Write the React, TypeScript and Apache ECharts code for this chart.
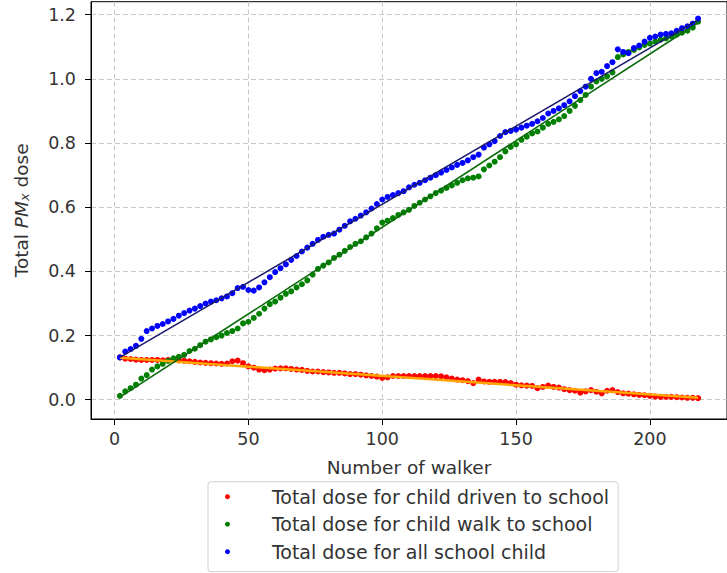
import React, { useEffect, useRef } from "react";
import * as echarts from "echarts";

const walkers = [
  2, 4, 6, 8, 10, 12, 14, 16, 18, 20, 22, 24, 26, 28, 30, 32, 34, 36, 38, 40,
  42, 44, 46, 48, 50, 52, 54, 56, 58, 60, 62, 64, 66, 68, 70, 72, 74, 76, 78, 80,
  82, 84, 86, 88, 90, 92, 94, 96, 98, 100, 102, 104, 106, 108, 110, 112, 114, 116, 118, 120,
  122, 124, 126, 128, 130, 132, 134, 136, 138, 140, 142, 144, 146, 148, 150, 152, 154, 156, 158, 160,
  162, 164, 166, 168, 170, 172, 174, 176, 178, 180, 182, 184, 186, 188, 190, 192, 194, 196, 198, 200,
  202, 204, 206, 208, 210, 212, 214, 216, 218,
];

const drivenDose = [
  0.132, 0.128, 0.127, 0.125, 0.124, 0.124, 0.124, 0.124, 0.123, 0.124,
  0.124, 0.123, 0.122, 0.120, 0.118, 0.116, 0.115, 0.114, 0.113, 0.112,
  0.113, 0.120, 0.122, 0.114, 0.104, 0.100, 0.094, 0.092, 0.094, 0.097,
  0.098, 0.098, 0.096, 0.094, 0.093, 0.090, 0.088, 0.088, 0.086, 0.085,
  0.084, 0.084, 0.082, 0.080, 0.080, 0.078, 0.076, 0.074, 0.072, 0.068,
  0.070, 0.074, 0.074, 0.074, 0.074, 0.074, 0.074, 0.074, 0.074, 0.074,
  0.073, 0.070, 0.066, 0.063, 0.061, 0.058, 0.052, 0.063, 0.057, 0.056,
  0.056, 0.056, 0.055, 0.052, 0.047, 0.045, 0.044, 0.043, 0.036, 0.040,
  0.044, 0.040, 0.038, 0.033, 0.030, 0.028, 0.022, 0.026, 0.030, 0.025,
  0.020, 0.028, 0.030, 0.024, 0.020, 0.019, 0.017, 0.015, 0.014, 0.012,
  0.010, 0.009, 0.009, 0.009, 0.008, 0.007, 0.006, 0.006, 0.005,
];

const walkDose = [
  0.012, 0.026, 0.036, 0.047, 0.066, 0.077, 0.094, 0.104, 0.112, 0.121,
  0.129, 0.134, 0.140, 0.152, 0.159, 0.170, 0.181, 0.188, 0.195, 0.200,
  0.208, 0.214, 0.222, 0.238, 0.243, 0.255, 0.268, 0.284, 0.298, 0.306,
  0.318, 0.330, 0.338, 0.350, 0.360, 0.372, 0.390, 0.408, 0.418, 0.428,
  0.442, 0.452, 0.464, 0.476, 0.486, 0.494, 0.506, 0.518, 0.534, 0.552,
  0.558, 0.566, 0.576, 0.584, 0.592, 0.604, 0.614, 0.624, 0.634, 0.644,
  0.652, 0.660, 0.668, 0.676, 0.684, 0.690, 0.692, 0.696, 0.718, 0.730,
  0.742, 0.756, 0.774, 0.788, 0.796, 0.810, 0.820, 0.830, 0.836, 0.848,
  0.860, 0.866, 0.874, 0.884, 0.900, 0.916, 0.934, 0.950, 0.976, 0.992,
  1.000, 1.008, 1.020, 1.068, 1.076, 1.084, 1.090, 1.098, 1.106, 1.110,
  1.116, 1.122, 1.126, 1.132, 1.138, 1.144, 1.150, 1.160, 1.178,
];

const allDose = [
  0.132, 0.150, 0.158, 0.168, 0.190, 0.214, 0.222, 0.230, 0.236, 0.244,
  0.252, 0.262, 0.270, 0.278, 0.284, 0.292, 0.300, 0.306, 0.310, 0.316,
  0.322, 0.332, 0.348, 0.352, 0.342, 0.340, 0.350, 0.366, 0.382, 0.398,
  0.410, 0.422, 0.436, 0.448, 0.462, 0.474, 0.486, 0.498, 0.508, 0.514,
  0.518, 0.530, 0.542, 0.556, 0.564, 0.574, 0.584, 0.596, 0.610, 0.624,
  0.632, 0.638, 0.644, 0.650, 0.662, 0.670, 0.676, 0.684, 0.692, 0.700,
  0.708, 0.716, 0.724, 0.732, 0.738, 0.746, 0.756, 0.764, 0.786, 0.796,
  0.806, 0.822, 0.834, 0.838, 0.842, 0.848, 0.854, 0.860, 0.868, 0.878,
  0.892, 0.900, 0.908, 0.918, 0.930, 0.946, 0.962, 0.976, 1.000, 1.018,
  1.022, 1.040, 1.052, 1.092, 1.084, 1.080, 1.096, 1.104, 1.116, 1.128,
  1.132, 1.138, 1.140, 1.142, 1.150, 1.158, 1.164, 1.172, 1.188,
];

// fitted trend lines: [walker, dose] endpoints
const drivenFit = [[2, 0.131], [218, 0.006]];
const walkFit = [[2, 0.008], [218, 1.175]];
const allFit = [[2, 0.132], [218, 1.184]];

const xTicks = [0, 50, 100, 150, 200];
const yTicks = [0, 0.2, 0.4, 0.6, 0.8, 1.0, 1.2];

const seriesNames = [
  "Total dose for child driven to school",
  "Total dose for child walk to school",
  "Total dose for all school child",
];

const FONT = '"DejaVu Sans", sans-serif';
const TXT = "#333333";

const pairs = (ys: number[]) => walkers.map((x, i) => [x, ys[i]]);

export default function App() {
  const ref = useRef<HTMLDivElement>(null);
  useEffect(() => {
    if (!ref.current) return;
    const chart = echarts.init(ref.current, null, { renderer: "svg" });
    const gridLine = { show: true, lineStyle: { type: [5, 3], color: "#c8c8c8", width: 1 } };
    const option: any = {
      animation: false,
      grid: {
        left: 91,
        top: 1.7,
        width: 644,
        height: 417.3,
        show: true,
        borderColor: "#000",
        borderWidth: 1,
        backgroundColor: "transparent",
      },
      xAxis: {
        type: "value",
        min: -8.8,
        max: 228.8,
        axisLine: { show: true, onZero: false, lineStyle: { color: "#000", width: 1 } },
        axisTick: { show: true, length: 6, customValues: xTicks, lineStyle: { color: "#000" } },
        axisLabel: {
          customValues: xTicks,
          margin: 11,
          fontSize: 17.5,
          color: TXT,
          fontFamily: FONT,
        },
        splitLine: gridLine,
        name: "Number of walker",
        nameLocation: "middle",
        nameGap: 39,
        nameTextStyle: { fontSize: 18.5, color: TXT, fontFamily: FONT },
      },
      yAxis: {
        type: "value",
        min: -0.06,
        max: 1.2405,
        axisLine: { show: true, onZero: false, lineStyle: { color: "#000", width: 1 } },
        axisTick: { show: true, length: 6, customValues: yTicks, lineStyle: { color: "#000" } },
        axisLabel: {
          customValues: yTicks,
          margin: 15,
          fontSize: 17.5,
          color: TXT,
          fontFamily: FONT,
          formatter: (v: number) => v.toFixed(1),
        },
        splitLine: gridLine,
        name: "Total {i|PM}{s|x} dose",
        nameLocation: "middle",
        nameGap: 60,
        nameRotate: 90,
        nameTextStyle: {
          fontSize: 18.5,
          color: TXT,
          fontFamily: FONT,
          rich: {
            i: { fontSize: 18.5, fontStyle: "italic", color: TXT, fontFamily: FONT },
            s: { fontSize: 13, fontStyle: "italic", color: TXT, fontFamily: FONT, verticalAlign: "bottom" },
          },
        },
      },
      legend: {
        orient: "vertical",
        left: 208,
        top: 481.7,
        padding: [5, 9, 10, 17],
        itemGap: 7.5,
        itemWidth: 20,
        itemHeight: 5,
        icon: "circle",
        selectedMode: false,
        borderColor: "#d0d0d0",
        borderWidth: 1,
        borderRadius: 3,
        textStyle: {
          fontSize: 19,
          fontFamily: FONT,
          color: TXT,
          lineHeight: 20,
          padding: [0, 0, 0, 29.4],
        },
        data: seriesNames,
      },
      series: [
        {
          name: seriesNames[0],
          type: "scatter",
          data: pairs(drivenDose),
          symbolSize: 6,
          itemStyle: { color: "#ff0000", opacity: 1 },
        },
        {
          type: "line",
          data: drivenFit,
          symbol: "none",
          lineStyle: { color: "#ffa500", width: 2.5 },
        },
        {
          name: seriesNames[1],
          type: "scatter",
          data: pairs(walkDose),
          symbolSize: 6,
          itemStyle: { color: "#008000", opacity: 1 },
        },
        {
          type: "line",
          data: walkFit,
          symbol: "none",
          lineStyle: { color: "#0b6b0b", width: 1.6 },
        },
        {
          name: seriesNames[2],
          type: "scatter",
          data: pairs(allDose),
          symbolSize: 6,
          itemStyle: { color: "#0000ff", opacity: 1 },
        },
        {
          type: "line",
          data: allFit,
          symbol: "none",
          lineStyle: { color: "#1a1a6e", width: 1.6 },
        },
      ],
    };
    chart.setOption(option);
    return () => chart.dispose();
  }, []);
  return (
    <div
      ref={ref}
      style={{ position: "fixed", left: 0, top: 0, width: 727, height: 573, background: "#fff" }}
    />
  );
}
